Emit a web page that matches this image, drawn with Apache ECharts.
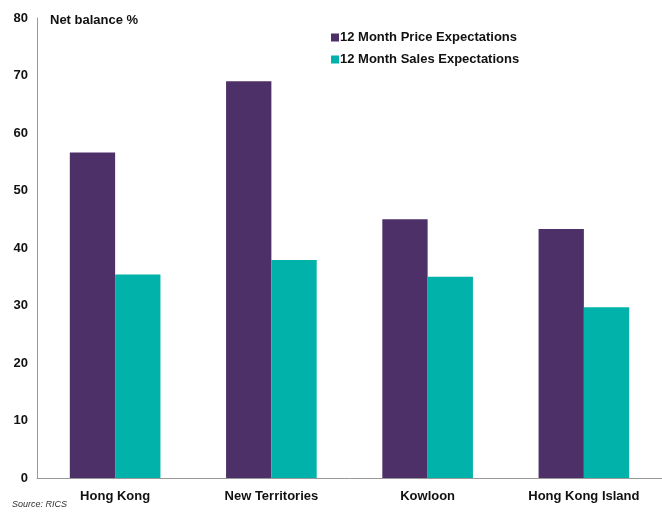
<!DOCTYPE html>
<html>
<head>
<meta charset="utf-8">
<script src="https://cdn.jsdelivr.net/npm/echarts@6/dist/echarts.min.js"></script>
<style>
  html, body { margin: 0; padding: 0; background: #fff; }
  #chart { width: 662px; height: 513px; }
</style>
</head>
<body>
<div id="chart"></div>
<script>
const regiones = ["Hong Kong", "New Territories", "Kowloon", "Hong Kong Island"];
const precios = [56.6, 69.0, 45.0, 43.3];
const ventas = [35.4, 37.9, 35.0, 29.7];
const nombresSeries = ["12 Month Price Expectations", "12 Month Sales Expectations"];

var dom = document.getElementById("chart");
var myChart = echarts.init(dom, null, { renderer: "canvas" });

const fuente = "Liberation Sans, Arial, sans-serif";

var option = {
  animation: false,
  color: ["#4d3068", "#00b2a9"],
  grid: { left: 37, right: 0, top: 18, bottom: 35 },
  legend: {
    orient: "vertical",
    left: 326,
    top: 26,
    itemWidth: 8,
    itemHeight: 8,
    itemGap: 9,
    icon: "rect",
    textStyle: { fontFamily: fuente, fontWeight: "bold", fontSize: 13, color: "#111", padding: [0, 0, 0, -4] },
    data: nombresSeries
  },
  graphic: [
    {
      type: "text",
      left: 50,
      top: 14,
      style: { text: "Net balance %", font: "bold 13px " + fuente, fill: "#111" }
    },
    {
      type: "text",
      left: 12,
      top: 500,
      style: { text: "Source: RICS", font: "italic 9px 'Liberation Sans Narrow', " + fuente, fill: "#333" }
    }
  ],
  xAxis: {
    type: "category",
    data: regiones,
    axisLine: { lineStyle: { color: "#999", width: 1 } },
    axisTick: { show: false },
    axisLabel: { fontFamily: fuente, fontWeight: "bold", fontSize: 13, color: "#111", margin: 12 }
  },
  yAxis: {
    type: "value",
    min: 0,
    max: 80,
    interval: 10,
    splitLine: { show: false },
    axisLine: { show: true, lineStyle: { color: "#999", width: 1 } },
    axisTick: { show: false },
    axisLabel: { fontFamily: fuente, fontWeight: "bold", fontSize: 13, color: "#111", margin: 9 }
  },
  series: [
    {
      name: nombresSeries[0],
      type: "bar",
      data: precios,
      barGap: "0%",
      barCategoryGap: "42%"
    },
    {
      name: nombresSeries[1],
      type: "bar",
      data: ventas
    }
  ]
};

myChart.setOption(option);
window.addEventListener("resize", myChart.resize);
</script>
</body>
</html>
